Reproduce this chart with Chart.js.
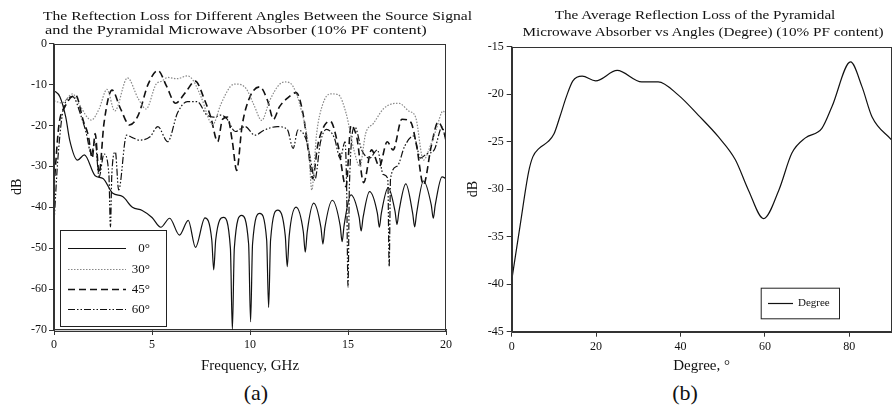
<!DOCTYPE html>
<html>
<head>
<meta charset="utf-8">
<script src="https://cdn.jsdelivr.net/npm/chart.js@4"></script>
<style>
  body { margin: 0; width: 892px; height: 406px; background: #fff; position: relative; overflow: hidden; font-family: "Liberation Serif", serif; color: #111; }
  .wrap { position: absolute; top: 0; height: 375px; }
  .ttl { position: absolute; font-size: 13px; line-height: 16px; white-space: nowrap; }
  .cap { position: absolute; font-size: 22px; line-height: 24px; width: 60px; text-align: center; }
</style>
</head>
<body>
<div class="wrap" style="left:0;width:455px"><canvas id="chartA" width="455" height="375"></canvas></div>
<div class="wrap" style="left:455px;width:437px"><canvas id="chartB" width="437" height="375"></canvas></div>

<div class="ttl" style="left:43px;top:8px;transform:scaleX(1.2);transform-origin:left center">The Reftection Loss for Different Angles Between the Source Signal</div>
<div class="ttl" style="left:45px;top:22px;transform:scaleX(1.26);transform-origin:left center">and the Pyramidal Microwave Absorber (10% PF content)</div>
<div class="ttl" style="left:495px;top:7px;width:400px;text-align:center;transform:scaleX(1.165)">The Average Reflection Loss of the Pyramidal</div>
<div class="ttl" style="left:503px;top:24px;width:400px;text-align:center;transform:scaleX(1.17)">Microwave Absorber vs Angles (Degree) (10% PF content)</div>
<div class="cap" style="left:226px;top:381px">(a)</div>
<div class="cap" style="left:655px;top:381px">(b)</div>

<script>
// (a) reflection loss vs frequency, one pair of arrays per angle
const seriesNames = ['0°', '30°', '45°', '60°'];

const freq0 = [0, 0.3, 0.6, 0.8, 1.2, 1.55, 2.1, 2.5, 3.0, 3.5, 4.0, 4.5, 5.0, 5.45, 5.9, 6.4, 6.85, 7.22, 7.7,
  8.05, 8.15, 8.25, 8.65, 9.0, 9.1, 9.2, 9.57, 9.93, 10.03, 10.13, 10.5, 10.85, 10.95, 11.05, 11.42, 11.8, 11.9, 12.0,
  12.35, 12.72, 12.82, 12.92, 13.25, 13.62, 13.72, 13.82, 14.2, 14.6, 14.7, 14.8, 15.15, 15.57, 15.67, 15.77, 16.1,
  16.5, 16.6, 16.7, 17.05, 17.4, 17.5, 17.6, 17.95, 18.3, 18.4, 18.5, 18.85, 19.25, 19.35, 19.45, 19.8, 20];
const rl0 = [-11.5, -13, -18, -23.6, -28.5, -27.2, -32.3, -33, -36.6, -37.4, -40, -40.8, -42.5, -44.9, -42.7, -46.8, -43.2, -49.8, -42.6,
  -48, -55.3, -48, -42.5, -50, -70, -50, -42, -49, -68, -49, -41.5, -48, -64.5, -48, -40.7, -47, -54.5, -47,
  -40, -46, -51, -46, -39, -45, -49, -45, -38.3, -44.5, -48.4, -44.5, -37, -42.5, -45.8, -42.5, -36.2,
  -41.5, -44.9, -41.5, -35.2, -41, -44.2, -41, -34.3, -41.5, -44.8, -41.5, -33.6, -39.5, -42.7, -39.5, -32.6, -33];

const freq30 = [0, 0.4, 0.95, 1.3, 1.9, 2.3, 2.7, 3.1, 3.75, 4.3, 4.7, 5.2, 5.5, 5.8, 6.3, 6.8, 7.1, 7.5, 8.1, 8.5, 9.0,
  9.3, 9.8, 10.2, 10.6, 11.0, 11.5, 11.8, 12.2, 12.6, 13.0, 13.15, 13.4, 13.7, 14.1, 14.5, 14.9, 15.3, 15.6, 15.9,
  16.3, 16.8, 17.2, 17.6, 18.1, 18.45, 18.85, 19.2, 19.5, 19.85, 20];
const rl30 = [-14, -14.5, -12.3, -15, -18.7, -16, -11.2, -16.5, -8.4, -13.5, -16, -10, -9.2, -8.3, -8.6, -7.9, -9, -13, -19.8, -15, -10.5,
  -9.9, -11, -15, -18.8, -14, -10, -9.4, -10.5, -16, -26, -35.8, -22, -15, -12.3, -12.5, -17, -26, -30, -22,
  -19.5, -16, -14.8, -14.6, -16.5, -18, -28.5, -25, -21, -16.5, -17.5];

const freq45 = [0, 0.25, 0.55, 1.1, 1.5, 1.75, 1.95, 2.1, 2.3, 2.55, 2.96, 3.4, 3.85, 4.3, 4.8, 5.3, 5.75, 6.2, 6.7, 7.2,
  7.7, 8.0, 8.35, 8.6, 8.85, 9.1, 9.32, 9.6, 10.0, 10.5, 10.9, 11.2, 11.5, 12.0, 12.35, 12.7, 13.0, 13.2, 13.45, 13.8,
  14.1, 14.5, 14.9, 15.15, 15.45, 15.8, 16.2, 16.6, 17.0, 17.3, 17.75, 18.2, 18.5, 18.85, 19.25, 19.6, 20];
const rl45 = [-35, -20, -15.5, -12.6, -19, -22.5, -28, -22, -31.7, -19.5, -11.4, -16, -19.9, -17.5, -10, -6.6, -10.5, -14.6, -12, -9.2,
  -14, -18, -24, -18.5, -18, -24, -31, -20, -13, -10.6, -14, -18.5, -15.5, -13, -12, -17, -27, -33, -25, -20,
  -19, -25, -35, -20, -23, -34, -26, -30, -24, -26, -18.5, -19.2, -25, -34.5, -25, -19.2, -23];

const freq60 = [0, 0.2, 0.5, 0.95, 1.4, 1.65, 1.9, 2.1, 2.3, 2.55, 2.8, 2.88, 2.95, 3.13, 3.3, 3.7, 4.0, 4.35, 4.9, 5.3,
  5.8, 6.3, 6.8, 7.3, 7.8, 8.15, 8.5, 8.8, 9.25, 9.75, 10.25, 10.75, 11.4, 11.9, 12.2, 12.45, 12.9, 13.15, 13.3, 13.6,
  13.9, 14.3, 14.6, 14.85, 14.93, 15.0, 15.07, 15.35, 15.7, 16.1, 16.5, 16.8, 17.03, 17.1, 17.17, 17.5, 17.9, 18.35,
  18.7, 19.0, 19.4, 19.8, 20];
const rl60 = [-44, -28, -15.5, -13, -18, -22, -27, -24, -32.6, -27, -32, -44.8, -32, -26.5, -35.8, -22.4, -23, -23.6, -22.8, -20.3,
  -24, -17, -14.2, -14.2, -17.5, -18, -17.5, -18.3, -21.5, -20.3, -22.4, -21.1, -20.3, -21, -25.6, -21.1, -24, -30, -33.4, -24,
  -21, -23, -28, -24, -35, -59.5, -35, -20.4, -26, -28, -26, -32, -33, -54.5, -33, -30, -25, -22.6,
  -28, -27, -26, -20.4, -24];

const freqTicks = [0, 5, 10, 15, 20];
const dbTicksA = [0, -10, -20, -30, -40, -50, -60, -70];

// (b) average reflection loss vs angle
const degree = [0, 2, 4, 5, 6.5, 8.6, 10, 11.4, 13, 14.5, 16.7, 19.9, 25, 30.8, 34.7, 39.5, 44.2, 49, 53, 56.1, 59.7,
  63.3, 66.4, 69.6, 73.5, 75.9, 80.3, 83, 85.4, 90];
const avgLoss = [-39.6, -33.8, -28.2, -26.6, -25.7, -25.0, -24.2, -22.4, -20.2, -18.6, -18.1, -18.6, -17.5, -18.7, -18.7, -20.1, -22.2, -24.5, -26.9, -30.1, -33.1,
  -30.1, -26.2, -24.6, -23.6, -21.3, -16.6, -19.2, -22.4, -24.8];
const degreeTicks = [0, 20, 40, 60, 80];
const dbTicksB = [-15, -20, -25, -30, -35, -40, -45];

function pts(xs, ys) {
  return xs.map((x, i) => ({ x: x, y: ys[i] }));
}

const frame = {
  id: 'frame',
  afterDatasetsDraw(chart) {
    const { ctx, chartArea: a } = chart;
    ctx.save();
    ctx.strokeStyle = '#333';
    ctx.lineWidth = 1;
    ctx.strokeRect(Math.round(a.left) + 0.5, Math.round(a.top) + 0.5, Math.round(a.right - a.left) - 1, Math.round(a.bottom - a.top));
    ctx.restore();
  }
};

// boxed legend drawn inside the plot
const boxLegend = {
  id: 'boxLegend',
  afterDraw(chart, args, o) {
    const { ctx } = chart;
    const [bx, by, bw, bh] = o.box;
    ctx.save();
    ctx.fillStyle = '#fff';
    ctx.fillRect(bx, by, bw, bh);
    ctx.strokeStyle = '#222';
    ctx.lineWidth = 1;
    ctx.strokeRect(bx + 0.5, by + 0.5, bw, bh);
    chart.data.datasets.forEach((ds, i) => {
      const y = Math.round(by + o.first + i * o.step) + 0.5;
      ctx.beginPath();
      ctx.setLineDash(ds.borderDash || []);
      ctx.strokeStyle = ds.borderColor;
      ctx.lineWidth = ds.borderWidth;
      ctx.moveTo(bx + o.x1, y);
      ctx.lineTo(bx + o.x2, y);
      ctx.stroke();
      ctx.setLineDash([]);
      ctx.fillStyle = '#111';
      ctx.font = o.font;
      ctx.textAlign = o.align;
      ctx.textBaseline = 'middle';
      ctx.fillText(ds.label, bx + o.tx, y);
    });
    ctx.restore();
  }
};

const tickFont = { family: 'Liberation Serif', size: 12 };

function lineSet(label, data, color, width, dash) {
  return {
    label: label,
    data: data,
    borderColor: color,
    borderWidth: width,
    borderDash: dash,
    pointRadius: 0,
    fill: false,
    cubicInterpolationMode: 'monotone'
  };
}

new Chart(document.getElementById('chartA'), {
  type: 'line',
  data: {
    datasets: [
      lineSet(seriesNames[0], pts(freq0, rl0), '#111', 1.2, []),
      lineSet(seriesNames[1], pts(freq30, rl30), '#888', 1.2, [1.5, 1.5]),
      lineSet(seriesNames[2], pts(freq45, rl45), '#111', 1.6, [7, 4]),
      lineSet(seriesNames[3], pts(freq60, rl60), '#111', 1.2, [7, 2, 1.5, 2, 1.5, 2])
    ]
  },
  plugins: [frame, boxLegend],
  options: {
    responsive: false,
    animation: false,
    devicePixelRatio: 1,
    layout: { padding: { left: 0, right: 4.5, top: 43.5, bottom: 0 } },
    plugins: {
      legend: { display: false },
      tooltip: { enabled: false },
      boxLegend: { box: [60, 230, 106, 96], first: 18.3, step: 20.3, x1: 8, x2: 66, tx: 90, align: 'right', font: '13px "Liberation Serif"' }
    },
    scales: {
      x: {
        type: 'linear', min: 0, max: 20,
        afterBuildTicks: s => { s.ticks = freqTicks.map(v => ({ value: v })); },
        afterFit: s => { s.height = 45; },
        grid: { drawOnChartArea: false, tickLength: 5, color: '#333' },
        border: { color: '#333', width: 1.3 },
        ticks: { font: tickFont, color: '#111', padding: 3, maxRotation: 0 },
        title: { display: true, text: 'Frequency, GHz', font: { family: 'Liberation Serif', size: 15 }, color: '#111', padding: { top: 0, bottom: 0 } }
      },
      y: {
        type: 'linear', min: -70, max: 0,
        afterBuildTicks: s => { s.ticks = dbTicksA.map(v => ({ value: v })); },
        afterFit: s => { s.width = 54; },
        grid: { drawOnChartArea: false, tickLength: 5, color: '#333' },
        border: { color: '#333', width: 1.3 },
        ticks: { font: tickFont, color: '#111', padding: 2 },
        title: { display: true, text: 'dB', font: { family: 'Liberation Serif', size: 14 }, color: '#111', padding: { top: 9, bottom: 0 } }
      }
    }
  }
});

new Chart(document.getElementById('chartB'), {
  type: 'line',
  data: {
    datasets: [
      lineSet('Degree', pts(degree, avgLoss), '#111', 1.2, [])
    ]
  },
  plugins: [frame, boxLegend],
  options: {
    responsive: false,
    animation: false,
    devicePixelRatio: 1,
    layout: { padding: { left: 0, right: 0.5, top: 46.7, bottom: 0 } },
    plugins: {
      legend: { display: false },
      tooltip: { enabled: false },
      boxLegend: { box: [305.7, 287.7, 78.3, 30.6], first: 15.3, step: 20, x1: 7.3, x2: 32.3, tx: 37.3, align: 'left', font: '11px "Liberation Serif"' }
    },
    scales: {
      x: {
        type: 'linear', min: 0, max: 90,
        afterBuildTicks: s => { s.ticks = degreeTicks.map(v => ({ value: v })); },
        afterFit: s => { s.height = 43.3; },
        grid: { drawOnChartArea: false, tickLength: 5, color: '#333' },
        border: { color: '#333', width: 1.3 },
        ticks: { font: tickFont, color: '#111', padding: 3, maxRotation: 0 },
        title: { display: true, text: 'Degree, °', font: { family: 'Liberation Serif', size: 15 }, color: '#111', padding: { top: 0, bottom: 0 } }
      },
      y: {
        type: 'linear', min: -45, max: -15,
        afterBuildTicks: s => { s.ticks = dbTicksB.map(v => ({ value: v })); },
        afterFit: s => { s.width = 56.7; },
        grid: { drawOnChartArea: false, tickLength: 5, color: '#333' },
        border: { color: '#333', width: 1.3 },
        ticks: { font: tickFont, color: '#111', padding: 3 },
        title: { display: true, text: 'dB', font: { family: 'Liberation Serif', size: 14 }, color: '#111', padding: { top: 10, bottom: 0 } }
      }
    }
  }
});
</script>
</body>
</html>
